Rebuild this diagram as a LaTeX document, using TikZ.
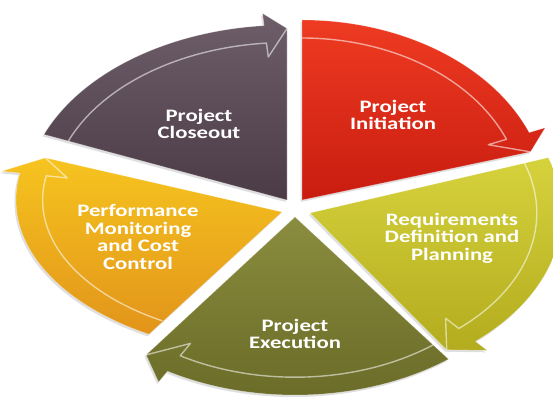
\documentclass[tikz,border=0pt]{standalone}
\usepackage{fontspec}
\newfontfamily\phasefont{Carlito}[FakeStretch=1.3,BoldFeatures={FakeStretch=1.3}]
\usetikzlibrary{shadows}
\definecolor{closeouttop}{HTML}{6E5E69}
\definecolor{closeoutbot}{HTML}{4B3B46}
\definecolor{initiationtop}{HTML}{EE3B22}
\definecolor{initiationbot}{HTML}{C91C10}
\definecolor{requirementstop}{HTML}{D6D23C}
\definecolor{requirementsbot}{HTML}{B3AC1E}
\definecolor{executiontop}{HTML}{8A8C3E}
\definecolor{executionbot}{HTML}{686A27}
\definecolor{performancetop}{HTML}{F6C41F}
\definecolor{performancebot}{HTML}{E2941A}
\tikzset{
    %phase label
    phase/.style={
      text=white,
      font=\phasefont\bfseries\fontsize{17.5}{17.6}\selectfont,
      align=center,
      inner sep=0pt},
    %wedge body
    wedge/.style={
      draw=white, draw opacity=0.3, line width=0.6pt,
      drop shadow={shadow xshift=-1.5pt, shadow yshift=-2pt, opacity=0.25}},
    %light edge of the arrow band
    bandline/.style={
      draw=white, draw opacity=0.55, line width=1.4pt, line join=round},
    closeoutfill/.style={top color=closeouttop, bottom color=closeoutbot},
    initiationfill/.style={top color=initiationtop, bottom color=initiationbot},
    requirementsfill/.style={top color=requirementstop, bottom color=requirementsbot},
    executionfill/.style={top color=executiontop, bottom color=executionbot},
    performancefill/.style={top color=performancetop, bottom color=performancebot}
}

% #1 vertex, #2 arc centre, #3 #4 radii, #5 #6 start/end angle,
% #7 head width (deg), #8 fill style, #9 tip factor
\newcommand{\cyclepart}[9]{%
  \pgfmathsetmacro\headang{#6+#7}
  \pgfmathsetmacro\rxo{1.07*#3}\pgfmathsetmacro\ryo{1.07*#4}
  \pgfmathsetmacro\rxb{0.9*#3}\pgfmathsetmacro\ryb{0.9*#4}
  \pgfmathsetmacro\rxi{0.82*#3}\pgfmathsetmacro\ryi{0.82*#4}
  \pgfmathsetmacro\rxt{#9*#3}\pgfmathsetmacro\ryt{#9*#4}
  \path[wedge, #8] (#1) -- ([shift={(#2)}]#5:{#3} and {#4})
    arc[start angle=#5, end angle=\headang, x radius=#3, y radius=#4]
    -- ([shift={(#2)}]\headang:{\rxo} and {\ryo})
    -- ([shift={(#2)}]#6:{\rxt} and {\ryt}) -- cycle;
  \path[bandline] ([shift={(#2)}]#5:{\rxb} and {\ryb})
    arc[start angle=#5, end angle=\headang, x radius=\rxb, y radius=\ryb]
    -- ([shift={(#2)}]\headang:{\rxi} and {\ryi})
    -- ([shift={(#2)}]#6:{\rxt} and {\ryt});
}

\begin{document}
\begin{tikzpicture}[x=1pt,y=1pt]
\useasboundingbox (0,0) rectangle (553,400);
\fill[white] (0,0) rectangle (553,400);
\clip (0,0) rectangle (553,400);

\cyclepart{287,200}{287,200}{262}{175}{158}{90}{5}{closeoutfill}{0.98}
\cyclepart{302,200}{302,200}{245}{180}{90}{16}{6}{initiationfill}{0.97}
\cyclepart{310,187}{310,187}{252}{170}{19}{-56}{7}{requirementsfill}{0.97}
\cyclepart{295,183}{295,183}{255}{178}{-53}{-127}{7}{executionfill}{0.97}
\cyclepart{282,188}{282,200}{266}{155}{-120}{-197}{7}{performancefill}{0.93}

\node[phase] (closeout) at (199,276) {Project\\Closeout};
\node[phase] (initiation) at (393,285) {Project\\Initiation};
\node[phase] (requirements) at (452,162) {Requirements\\Definition and\\Planning};
\node[phase] (execution) at (295,66) {Project\\Execution};
\node[phase] (performance) at (138,163) {Performance\\Monitoring\\and Cost\\Control};
\end{tikzpicture}
\end{document}
